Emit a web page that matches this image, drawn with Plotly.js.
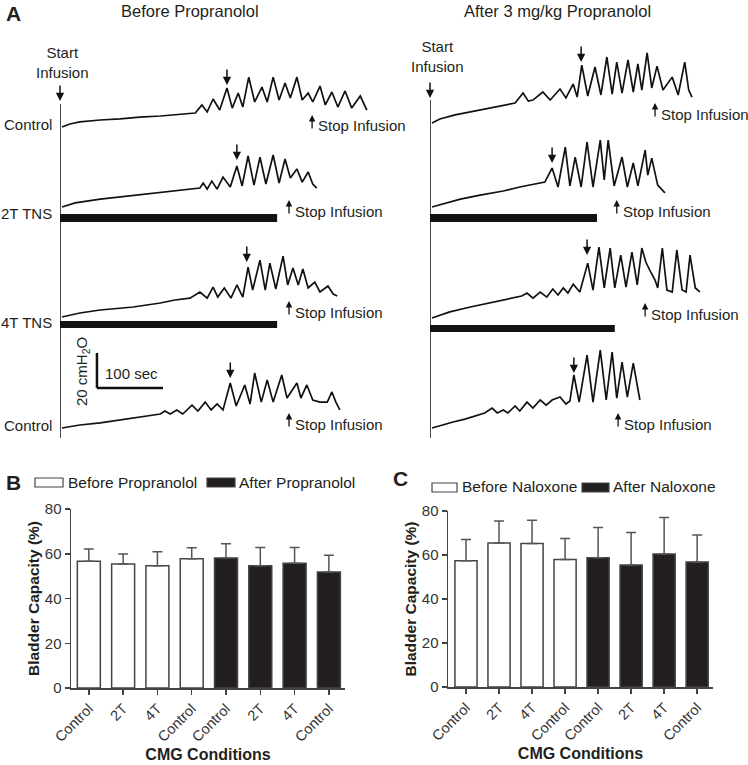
<!DOCTYPE html>
<html>
<head>
<meta charset="utf-8">
<script src="https://cdn.plot.ly/plotly-3.0.1.min.js"></script>
<style>
  body { margin: 0; background: #fff; }
  #plot { width: 748px; height: 765px; }
</style>
</head>
<body>
<div id="plot"></div>
<script>
// ---- Panel A: cystometrograms (time in s, pressure in cmH2O) ----
// before propranolol
var tL1 = [3, 15, 30, 61, 91, 121, 152, 182, 205, 215, 223, 232, 242, 253, 261, 270, 277, 286, 295, 306, 314, 323, 332, 341, 349, 359, 367, 376, 383, 394, 402, 412, 421, 432, 442, 455, 465];
var pL1 = [2.0, 3.7, 4.9, 6.0, 6.6, 7.7, 8.3, 9.4, 10.0, 14.6, 10.6, 18.0, 11.7, 24.3, 12.8, 21.4, 13.4, 30.5, 16.3, 24.8, 16.3, 30.5, 17.4, 27.1, 18.6, 30.5, 17.4, 21.4, 16.3, 25.4, 14.6, 22.0, 13.4, 22.6, 12.8, 19.7, 11.7];
var tL2 = [3, 23, 61, 106, 152, 189, 212, 217, 223, 230, 238, 247, 258, 268, 276, 285, 294, 303, 312, 323, 332, 341, 349, 359, 367, 376, 383, 389];
var pL2 = [2.6, 4.9, 7.1, 8.9, 10.6, 12.3, 13.4, 16.3, 12.8, 17.4, 12.8, 19.7, 14.0, 26.0, 14.6, 31.7, 15.1, 31.1, 15.7, 32.3, 16.3, 30.0, 19.1, 24.3, 16.8, 22.6, 15.7, 13.4];
var tL3 = [3, 30, 61, 111, 152, 174, 197, 212, 223, 232, 239, 249, 259, 268, 277, 285, 292, 303, 311, 318, 327, 338, 345, 353, 361, 368, 376, 386, 394, 406, 414, 420];
var pL3 = [2.0, 4.3, 6.0, 7.7, 10.0, 11.7, 12.8, 16.3, 12.8, 19.1, 13.4, 18.6, 12.8, 20.3, 13.4, 30.5, 17.4, 34.5, 17.4, 32.8, 18.0, 36.8, 20.3, 30.0, 20.3, 29.4, 18.6, 22.0, 16.3, 19.7, 15.1, 14.0];
var tL4 = [3, 30, 61, 91, 121, 152, 159, 167, 177, 186, 200, 209, 220, 229, 238, 247, 258, 267, 280, 288, 295, 305, 314, 323, 336, 344, 359, 365, 374, 383, 394, 405, 412, 418, 424];
var pL4 = [2.0, 3.7, 4.9, 6.6, 8.3, 10.0, 11.7, 10.0, 12.3, 10.0, 15.1, 11.7, 16.8, 12.3, 15.7, 12.3, 27.7, 14.6, 26.6, 15.7, 33.4, 16.8, 29.4, 16.8, 32.3, 19.1, 27.7, 19.1, 26.6, 18.0, 16.8, 16.8, 22.6, 16.8, 12.3];
// after 3 mg/kg propranolol
var tR1 = [3, 15, 38, 61, 91, 114, 129, 141, 149, 156, 171, 182, 197, 206, 217, 223, 230, 239, 250, 259, 268, 276, 283, 291, 300, 308, 315, 321, 329, 336, 344, 353, 367, 376, 386, 392, 397];
var pR1 = [4.3, 6.6, 8.9, 10.6, 12.8, 14.6, 15.7, 21.4, 16.8, 17.4, 22.0, 17.4, 23.7, 18.6, 26.6, 19.1, 37.4, 19.7, 36.3, 20.3, 42.0, 20.8, 39.1, 21.4, 40.3, 22.0, 38.0, 23.1, 44.3, 24.3, 36.8, 23.1, 30.5, 20.3, 39.1, 23.1, 19.1];
var tR2 = [3, 23, 46, 76, 111, 136, 162, 174, 185, 194, 205, 212, 220, 229, 238, 247, 258, 264, 270, 279, 291, 299, 308, 315, 326, 330, 336, 345, 356];
var pR2 = [2.6, 4.9, 7.1, 9.4, 11.7, 14.0, 15.7, 16.8, 24.8, 14.0, 36.8, 14.6, 31.1, 14.0, 39.7, 14.0, 40.8, 18.0, 40.8, 14.6, 31.1, 14.0, 27.7, 14.6, 35.1, 20.8, 30.5, 15.1, 10.6];
var tR3 = [3, 30, 61, 91, 111, 129, 139, 147, 156, 167, 177, 186, 194, 202, 209, 217, 227, 239, 247, 256, 264, 273, 280, 289, 297, 306, 314, 321, 327, 333, 341, 345, 352, 359, 367, 374, 382, 388, 394, 402, 409];
var pR3 = [1.4, 4.9, 7.7, 10.0, 11.7, 12.8, 14.0, 15.7, 12.8, 16.3, 13.4, 18.0, 14.6, 18.6, 15.7, 20.8, 16.3, 32.8, 17.4, 42.0, 18.6, 41.4, 18.6, 37.4, 19.1, 39.1, 20.3, 41.4, 33.4, 28.8, 23.1, 18.6, 41.4, 17.4, 16.3, 40.3, 17.4, 16.3, 37.4, 18.6, 16.3];
var tR4 = [3, 23, 35, 53, 71, 83, 94, 102, 111, 118, 129, 136, 147, 156, 167, 176, 185, 197, 206, 212, 218, 226, 238, 247, 258, 267, 276, 283, 291, 299, 308, 314, 318];
var pR4 = [2.0, 4.3, 5.4, 7.1, 9.4, 10.6, 13.4, 10.6, 12.3, 10.6, 14.6, 11.7, 16.8, 13.4, 18.0, 15.1, 18.0, 19.7, 15.7, 17.4, 32.3, 16.8, 43.7, 16.8, 46.5, 18.0, 45.4, 19.1, 39.7, 19.7, 39.1, 26.6, 18.0];

var rowNames = ['Control', '2T TNS', '4T TNS', 'Control'];
// first contraction marker (time, pressure at arrow tip)
var markLeftT = [253, 268, 283, 258];
var markLeftP = [26.0, 29.4, 33.4, 30.5];
var markRightT = [229, 185, 238, 218];
var markRightP = [39.1, 27.7, 37.4, 33.4];
// stop infusion times (s)
var stopLeft = [382, 347, 347, 347];
var stopRight = [341, 283, 326, 285];
// TNS duration (s) for 2T and 4T rows
var tnsLeft = [329, 329];
var tnsRight = [253, 280];

// ---- Panels B and C: bladder capacity (%) ----
var conds = ['Control', '2T', '4T', 'Control', 'Control', '2T', '4T', 'Control'];
var posBefore = [0, 1, 2, 3];
var posAfter = [4, 5, 6, 7];
var propBefore = [56.7, 55.4, 54.6, 57.8];
var propBeforeErr = [5.4, 4.5, 6.3, 4.9];
var propAfter = [58.1, 54.6, 55.7, 51.8];
var propAfterErr = [6.4, 8.2, 7.1, 7.5];
var naloBefore = [57.4, 65.5, 65.2, 58.0];
var naloBeforeErr = [9.6, 10.0, 10.6, 9.5];
var naloAfter = [58.8, 55.4, 60.5, 56.8];
var naloAfterErr = [13.7, 14.8, 16.5, 12.3];
var noErr = [0, 0, 0, 0];

var W = 748, H = 765;
function X(px) { return px / W; }
function Y(py) { return 1 - py / H; }
var ink = '#231f20';
var font = 'Arial, "Liberation Sans", sans-serif';

var traces = [];
var leftT = [tL1, tL2, tL3, tL4], leftP = [pL1, pL2, pL3, pL4];
var rightT = [tR1, tR2, tR3, tR4], rightP = [pR1, pR2, pR3, pR4];
var ys = ['y3', 'y4', 'y5', 'y6'];
for (var i = 0; i < 4; i++) {
  traces.push({x: leftT[i], y: leftP[i], xaxis: 'x3', yaxis: ys[i], type: 'scatter', mode: 'lines',
    line: {color: '#111', width: 1.7}, hoverinfo: 'skip'});
  traces.push({x: rightT[i], y: rightP[i], xaxis: 'x4', yaxis: ys[i], type: 'scatter', mode: 'lines',
    line: {color: '#111', width: 1.7}, hoverinfo: 'skip'});
}

function barTrace(xs, vals, errs, fill, xa, ya) {
  return {
    x: xs, y: vals, type: 'bar', xaxis: xa, yaxis: ya, width: 0.67,
    marker: {color: fill, line: {color: '#444', width: 1.5}},
    error_y: {type: 'data', symmetric: false, array: errs, arrayminus: noErr,
      color: '#555', thickness: 1.5, width: 5},
    hoverinfo: 'skip'
  };
}
traces.push(barTrace(posBefore, propBefore, propBeforeErr, '#ffffff', 'x', 'y'));
traces.push(barTrace(posAfter, propAfter, propAfterErr, ink, 'x', 'y'));
traces.push(barTrace(posBefore, naloBefore, naloBeforeErr, '#ffffff', 'x2', 'y2'));
traces.push(barTrace(posAfter, naloAfter, naloAfterErr, ink, 'x2', 'y2'));

// row vertical domains: zero-pressure pixel per row, 105 px for 60 cmH2O
var rowZero = [130.5, 211.5, 320.5, 431.5];
function rowAxis(i) {
  return {domain: [Y(rowZero[i]), Y(rowZero[i] - 105)], range: [0, 60], visible: false, anchor: 'x3', fixedrange: true};
}

function barYAxis(dom) {
  return {
    domain: dom, range: [0, 80], dtick: 20, showline: true, linecolor: '#444', linewidth: 1.5,
    ticks: 'outside', ticklen: 5, tickwidth: 1.5, tickcolor: '#444', showgrid: false, zeroline: false,
    tickfont: {size: 15, color: '#333', family: font},
    title: {text: '<b>Bladder Capacity (%)</b>', font: {size: 15.5, color: ink, family: font}, standoff: 1}
  };
}
function barXAxis(dom, rng, anchor) {
  return {
    domain: dom, range: rng, anchor: anchor, tickvals: [0, 1, 2, 3, 4, 5, 6, 7], ticktext: conds,
    tickangle: -45, showline: true, linecolor: '#444', linewidth: 1.5, ticks: 'outside', ticklen: 5,
    tickwidth: 1.5, tickcolor: '#444', showgrid: false, zeroline: false,
    tickfont: {size: 14.5, color: '#333', family: font},
    title: {text: '<b>CMG Conditions</b>', font: {size: 16, color: ink, family: font}, standoff: 5}
  };
}

var ann = [];
function txt(x, y, s, size, opts) {
  var a = {xref: 'paper', yref: 'paper', x: x, y: y, text: s, showarrow: false,
    font: {size: size, color: ink, family: font}, xanchor: 'center', yanchor: 'middle'};
  for (var k in opts) a[k] = opts[k];
  ann.push(a);
}
txt(X(4), Y(13), '<b>A</b>', 21, {xanchor: 'left'});
txt(X(190), Y(11), 'Before Propranolol', 16.5);
txt(X(557), Y(11), 'After 3 mg/kg Propranolol', 16.5);
txt(X(62), Y(62), 'Start<br>Infusion', 15);
txt(X(437), Y(57), 'Start<br>Infusion', 15);
var labelY = [125, 213, 322, 425];
for (var i = 0; i < 4; i++) txt(X(54), Y(labelY[i]), rowNames[i], 15, {xanchor: 'right'});

// start arrows
ann.push({xref: 'paper', yref: 'paper', x: X(60), y: Y(101), ax: 0, ay: -17, text: '', showarrow: true,
  arrowhead: 2, arrowsize: 1.1, arrowwidth: 1.5, arrowcolor: '#111'});
ann.push({xref: 'paper', yref: 'paper', x: X(430), y: Y(98), ax: 0, ay: -17, text: '', showarrow: true,
  arrowhead: 2, arrowsize: 1.1, arrowwidth: 1.5, arrowcolor: '#111'});

// first-contraction arrows
for (var i = 0; i < 4; i++) {
  ann.push({xref: 'x3', yref: ys[i], x: markLeftT[i], y: markLeftP[i], ax: 0, ay: -17, text: '', showarrow: true,
    arrowhead: 2, arrowsize: 1.1, arrowwidth: 1.5, arrowcolor: '#111'});
  ann.push({xref: 'x4', yref: ys[i], x: markRightT[i], y: markRightP[i], ax: 0, ay: -17, text: '', showarrow: true,
    arrowhead: 2, arrowsize: 1.1, arrowwidth: 1.5, arrowcolor: '#111'});
}

// stop infusion arrows + text
var stopHeadL = [115, 200, 301, 413], stopHeadR = [103, 200, 303, 413];
for (var i = 0; i < 4; i++) {
  ann.push({xref: 'x3', yref: 'paper', x: stopLeft[i], y: Y(stopHeadL[i]), ax: 0, ay: 15, text: '', showarrow: true,
    arrowhead: 2, arrowsize: 1, arrowwidth: 1.3, arrowcolor: '#111'});
  ann.push({xref: 'x3', yref: 'paper', x: stopLeft[i], y: Y(stopHeadL[i] + 11), xshift: 4, text: 'Stop Infusion',
    showarrow: false, xanchor: 'left', yanchor: 'middle', font: {size: 15, color: ink, family: font}});
  ann.push({xref: 'x4', yref: 'paper', x: stopRight[i], y: Y(stopHeadR[i]), ax: 0, ay: 15, text: '', showarrow: true,
    arrowhead: 2, arrowsize: 1, arrowwidth: 1.3, arrowcolor: '#111'});
  ann.push({xref: 'x4', yref: 'paper', x: stopRight[i], y: Y(stopHeadR[i] + 11), xshift: 4, text: 'Stop Infusion',
    showarrow: false, xanchor: 'left', yanchor: 'middle', font: {size: 15, color: ink, family: font}});
}

// scale bar labels
txt(X(131), Y(373), '100 sec', 15);
txt(X(82), Y(372), '20 cmH<sub>2</sub>O', 15, {textangle: -90});

// panel letters and legends for B, C
txt(X(4), Y(482), '<b>B</b>', 21, {xanchor: 'left'});
txt(X(391), Y(478), '<b>C</b>', 21, {xanchor: 'left'});
txt(X(66), Y(482), 'Before Propranolol', 15.5, {xanchor: 'left'});
txt(X(237), Y(482), 'After Propranolol', 15.5, {xanchor: 'left'});
txt(X(460), Y(487), 'Before Naloxone', 15.5, {xanchor: 'left'});
txt(X(611), Y(487), 'After Naloxone', 15.5, {xanchor: 'left'});

var shapes = [
  {type: 'line', xref: 'x3', yref: 'paper', x0: 0, x1: 0, y0: Y(438), y1: Y(104), line: {color: '#111', width: 1.5}},
  {type: 'line', xref: 'x4', yref: 'paper', x0: 0, x1: 0, y0: Y(438), y1: Y(100), line: {color: '#111', width: 1.5}},
  // TNS stimulation bars
  {type: 'rect', xref: 'x3', yref: 'paper', x0: 0, x1: tnsLeft[0], y0: Y(222), y1: Y(214), fillcolor: '#111', line: {width: 0}},
  {type: 'rect', xref: 'x3', yref: 'paper', x0: 0, x1: tnsLeft[1], y0: Y(328), y1: Y(321), fillcolor: '#111', line: {width: 0}},
  {type: 'rect', xref: 'x4', yref: 'paper', x0: 0, x1: tnsRight[0], y0: Y(222), y1: Y(214), fillcolor: '#111', line: {width: 0}},
  {type: 'rect', xref: 'x4', yref: 'paper', x0: 0, x1: tnsRight[1], y0: Y(332), y1: Y(325), fillcolor: '#111', line: {width: 0}},
  // scale bar: 20 cmH2O x 100 s
  {type: 'line', xref: 'x3', yref: 'y6', x0: 56, x1: 56, y0: 24.8, y1: 44.8, line: {color: '#111', width: 2.5}},
  {type: 'line', xref: 'x3', yref: 'y6', x0: 56, x1: 156, y0: 24.8, y1: 24.8, line: {color: '#111', width: 2.5}},
  // legend swatches
  {type: 'rect', xref: 'paper', yref: 'paper', x0: X(35), x1: X(63), y0: Y(487), y1: Y(478), fillcolor: '#fff', line: {color: '#444', width: 1.2}},
  {type: 'rect', xref: 'paper', yref: 'paper', x0: X(207), x1: X(235), y0: Y(487), y1: Y(478), fillcolor: ink, line: {color: '#444', width: 1.2}},
  {type: 'rect', xref: 'paper', yref: 'paper', x0: X(432), x1: X(457), y0: Y(492), y1: Y(483), fillcolor: '#fff', line: {color: '#444', width: 1.2}},
  {type: 'rect', xref: 'paper', yref: 'paper', x0: X(582), x1: X(609), y0: Y(492), y1: Y(483), fillcolor: ink, line: {color: '#444', width: 1.2}}
];

var layout = {
  width: W, height: H,
  margin: {l: 0, r: 0, t: 0, b: 0, pad: 0},
  paper_bgcolor: '#fff', plot_bgcolor: 'rgba(0,0,0,0)',
  showlegend: false,
  font: {family: font, color: ink},
  xaxis: barXAxis([X(71), X(345)], [-0.52, 7.47], 'y'),
  yaxis: barYAxis([Y(688), Y(509)]),
  xaxis2: barXAxis([X(448), X(713)], [-0.545, 7.48], 'y2'),
  yaxis2: Object.assign(barYAxis([Y(687), Y(511)]), {anchor: 'x2'}),
  xaxis3: {domain: [X(60), X(420)], range: [0, 545.5], visible: false, anchor: 'y3', fixedrange: true},
  xaxis4: {domain: [X(430), X(745)], range: [0, 477.3], visible: false, anchor: 'y3', fixedrange: true},
  yaxis3: rowAxis(0),
  yaxis4: rowAxis(1),
  yaxis5: rowAxis(2),
  yaxis6: rowAxis(3),
  annotations: ann,
  shapes: shapes
};

Plotly.newPlot('plot', traces, layout, {staticPlot: true});
</script>
</body>
</html>
